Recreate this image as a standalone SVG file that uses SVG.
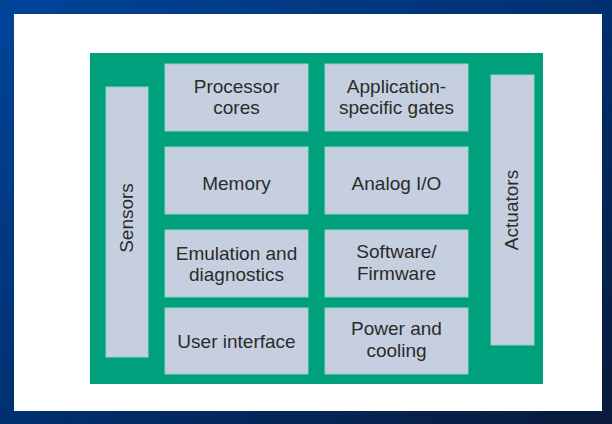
<svg xmlns="http://www.w3.org/2000/svg" width="612" height="424" viewBox="0 0 612 424">
<defs>
<linearGradient id="bg" x1="0" y1="0" x2="1" y2="1">
<stop offset="0" stop-color="#00449a"/>
<stop offset="0.5" stop-color="#003070"/>
<stop offset="1" stop-color="#0a1a3a"/>
</linearGradient>
<style>
.box{fill:#c6cfdf;stroke:#8fd6c0;stroke-width:1}
.t{font-family:"Liberation Sans",Arial,sans-serif;font-size:19px;fill:#2b2b2b;text-anchor:middle}
</style>
</defs>
<rect x="0" y="0" width="612" height="424" fill="url(#bg)"/>
<rect x="14" y="14" width="588" height="397" fill="#ffffff"/>
<g id="chip">
<rect x="90" y="53" width="453" height="331" fill="#00a07c"/>
</g>
<g id="sensors">
<rect class="box" x="106" y="87" width="42" height="270"/>
<text class="t" transform="translate(133,218) rotate(-90)">Sensors</text>
</g>
<g id="actuators">
<rect class="box" x="491" y="75" width="43" height="270"/>
<text class="t" transform="translate(518,210) rotate(-90)">Actuators</text>
</g>
<g id="processor-cores">
<rect class="box" x="165" y="64" width="143" height="67"/>
<text class="t" x="236.5" y="93">Processor</text>
<text class="t" x="236.5" y="114">cores</text>
</g>
<g id="application-specific-gates">
<rect class="box" x="325" y="64" width="143" height="67"/>
<text class="t" x="396.5" y="93">Application-</text>
<text class="t" x="396.5" y="114">specific gates</text>
</g>
<g id="memory">
<rect class="box" x="165" y="147" width="143" height="67"/>
<text class="t" x="236.5" y="190">Memory</text>
</g>
<g id="analog-io">
<rect class="box" x="325" y="147" width="143" height="67"/>
<text class="t" x="396.5" y="190">Analog I/O</text>
</g>
<g id="emulation">
<rect class="box" x="165" y="230" width="143" height="67"/>
<text class="t" x="236.5" y="260">Emulation and</text>
<text class="t" x="236.5" y="281">diagnostics</text>
</g>
<g id="software">
<rect class="box" x="325" y="230" width="143" height="67"/>
<text class="t" x="396.5" y="258">Software/</text>
<text class="t" x="396.5" y="280">Firmware</text>
</g>
<g id="user-interface">
<rect class="box" x="165" y="308" width="143" height="66"/>
<text class="t" x="236.5" y="348">User interface</text>
</g>
<g id="power">
<rect class="box" x="325" y="308" width="143" height="66"/>
<text class="t" x="396.5" y="335">Power and</text>
<text class="t" x="396.5" y="357">cooling</text>
</g>
<g id="connectors"/>
</svg>
